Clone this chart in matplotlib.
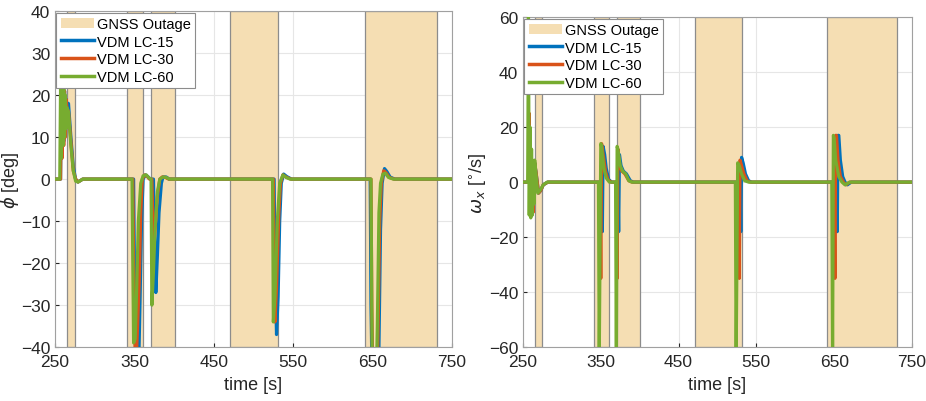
import numpy as np
import matplotlib
matplotlib.use("Agg")
import matplotlib.pyplot as plt
from matplotlib.patches import Patch
from matplotlib.lines import Line2D

plt.rcParams['font.family'] = ['Liberation Sans', 'DejaVu Sans']
plt.rcParams['mathtext.fontset'] = 'dejavusans'

# GNSS outage windows [start, end] in seconds
outages = [(265, 275), (341, 361), (371, 401), (471, 531), (641, 731)]

# roll angle phi [deg], keypoints (time, value)
phi_lc15 = [(250, 0), (257, 0), (258, 20), (259, 6), (260, 22), (261, 9), (262, 21), (263, 11),
            (264, 19), (265, 18), (267, 18), (270, 10), (273, 3), (276, 0), (279, -0.7), (285, 0),
            (349, 0), (350, -20), (352, -48), (355, -48), (357, -30), (359, -10), (361, 0),
            (364, 1), (367, 0.6), (370, 0), (374, 0), (375, -10), (377, -27), (379, -18),
            (381, -8), (384, -1), (386, 0.5), (390, 0.5), (394, 0),
            (526, 0), (527, -20), (529, -37), (531, -28), (533, -10), (535, -1), (538, 1.2),
            (542, 0.6), (548, 0),
            (647, 0), (648, -30), (650, -55), (656, -55), (658, -40), (660, -12), (662, -1),
            (665, 2.5), (668, 1.8), (672, 0.5), (678, 0), (750, 0)]
phi_lc30 = [(250, 0), (257, 0), (258, 21), (259, 5), (260, 23), (261, 8), (262, 21), (263, 10),
            (264, 19), (265, 17), (267, 16), (270, 9), (273, 2), (276, 0), (279, -0.7), (285, 0),
            (348, 0), (349, -20), (351, -42), (353, -40), (356, -25), (358, -8), (360, 0),
            (363, 1), (366, 0.6), (369, 0), (372, 0), (373, -8), (374, -17), (376, -12),
            (379, -4), (382, 0), (385, 0.5), (389, 0.4), (393, 0),
            (525, 0), (526, -20), (527, -34), (529, -26), (532, -8), (534, -1), (537, 1),
            (541, 0.5), (547, 0),
            (648, 0), (649, -30), (651, -55), (655, -55), (657, -35), (659, -10), (661, -1),
            (664, 2), (667, 1.5), (671, 0.4), (677, 0), (750, 0)]
phi_lc60 = [(250, 0), (256, 0), (257, 22), (258, 5), (259, 24), (260, 8), (261, 22), (262, 10),
            (263, 20), (264, 12), (265, 17), (267, 16), (270, 8), (273, 2), (276, -0.5), (279, -0.7),
            (285, 0),
            (347, 0), (348, -20), (349, -39), (351, -38), (353, -25), (355, -10), (358, -1),
            (361, 0.8), (365, 1), (368, 0.3), (371, 0), (372, -30), (374, -22), (376, -12),
            (379, -3), (382, 0), (386, 0.5), (390, 0.4), (394, 0),
            (524, 0), (525, -34), (527, -28), (530, -10), (533, -1), (537, 1), (541, 0.4), (546, 0),
            (648, 0), (649, -30), (650, -55), (654, -55), (656, -35), (658, -8), (660, -1),
            (663, 1.2), (666, 1.4), (670, 0.4), (676, 0), (750, 0)]

# roll rate omega_x [deg/s], keypoints (time, value)
w_lc15 = [(250, 0), (257, 0), (258, 18), (259, -10), (260, 8), (261, -12), (262, 7), (263, -10),
          (265, 7), (267, 3), (270, -4), (273, -3), (276, -1), (282, 0),
          (351, 0), (352, -18), (353, 13), (355, 10), (357, 5), (360, 1), (364, 0),
          (372, 0), (373, -18), (374, 10), (376, 6), (379, 4), (383, 3), (388, 0.5), (392, 0),
          (529, 0), (530, -18), (531, 9), (533, 7), (536, 3), (540, 0.5), (544, 0),
          (653, 0), (654, -18), (655, 17), (656, 17), (658, 8), (661, 2), (664, 0),
          (667, -1), (672, 0), (750, 0)]
w_lc30 = [(250, 0), (257, 0), (258, 25), (259, -11), (260, 10), (261, -12), (262, 8), (263, -11),
          (265, 7), (267, 3), (270, -4), (273, -3), (276, -1), (282, 0),
          (349, 0), (350, -35), (351, 14), (353, 10), (356, 4), (359, 1), (363, 0),
          (370, 0), (371, -35), (372, 12), (374, 6), (377, 4), (381, 3), (386, 0.5), (390, 0),
          (527, 0), (528, -35), (529, 8), (531, 6), (534, 3), (538, 0.5), (542, 0),
          (650, 0), (651, -35), (652, 17), (653, 17), (655, 8), (658, 2), (662, 0),
          (665, -1), (670, 0), (750, 0)]
w_lc60 = [(250, 0), (256, 0), (257, 60), (258, -12), (259, 20), (260, -13), (261, 12), (262, -12),
          (263, 6), (264, -8), (265, 8), (267, 2), (269, -4), (272, -3), (276, -1), (281, 0),
          (347, 0), (348, -65), (350, 14), (351, 13), (354, 5), (357, 1.5), (361, 0),
          (369, 0), (370, -65), (371, 13), (372, 12), (375, 6), (378, 4), (382, 3), (386, 0.5),
          (390, 0),
          (523, 0), (524, -65), (526, 7), (528, 6), (531, 3), (535, 0.5), (540, 0),
          (647, 0), (648, -65), (649, 17), (650, 16), (652, 8), (656, 2), (660, 0),
          (664, -1), (670, 0), (750, 0)]

labels = ['VDM LC-15', 'VDM LC-30', 'VDM LC-60']
colors = ['#0072BD', '#D95319', '#77AC30']
outage_color = '#F5DEB3'


def draw_panel(ax, series, ylim, yticks, ylabel):
    for a, b in outages:
        ax.axvspan(a, b, facecolor=outage_color, edgecolor='#8c8c8c', linewidth=0.9, zorder=1)
    for s, c in zip(series, colors):
        t, v = zip(*s)
        ax.plot(t, v, color=c, linewidth=2.3, zorder=3)
    ax.set_xlim(250, 750)
    ax.set_ylim(*ylim)
    ax.set_xticks([250, 350, 450, 550, 650, 750])
    ax.set_yticks(yticks)
    ax.grid(True, color='#e6e6e6', linewidth=0.8, zorder=0)
    ax.set_axisbelow(True)
    ax.tick_params(direction='in', length=3, labelsize=12.5, colors='#262626', pad=3.5)
    ax.tick_params(axis='x', pad=5)
    for sp in ax.spines.values():
        sp.set_color('#a0a0a0')
    ax.set_xlabel('time [s]', fontsize=13, color='#262626', labelpad=5)
    ax.set_ylabel(ylabel, fontsize=13, color='#262626', labelpad=0)
    handles = [Patch(facecolor=outage_color, edgecolor='none')] + \
        [Line2D([0], [0], color=c, linewidth=2.5) for c in colors]
    leg = ax.legend(handles, ['GNSS Outage'] + labels, loc='upper left', fontsize=10.5,
                    borderaxespad=0.1, handlelength=2.3, handletextpad=0.15,
                    labelspacing=0.25, borderpad=0.3, fancybox=False, framealpha=1)
    leg.get_frame().set_edgecolor('#8c8c8c')
    leg.get_frame().set_linewidth(0.8)
    leg.set_zorder(5)


fig = plt.figure(figsize=(9.26, 4.02), dpi=100)
ax1 = fig.add_axes([0.0594, 0.134, 0.4287, 0.836])
ax2 = fig.add_axes([0.5648, 0.134, 0.4200, 0.821])

draw_panel(ax1, [phi_lc15, phi_lc30, phi_lc60], (-40, 40), np.arange(-40, 41, 10), r'$\phi$ [deg]')
draw_panel(ax2, [w_lc15, w_lc30, w_lc60], (-60, 60), np.arange(-60, 61, 20),
           r'$\omega_x$ [$^{\circ}$/s]')

fig.savefig('out.png', dpi=100)
